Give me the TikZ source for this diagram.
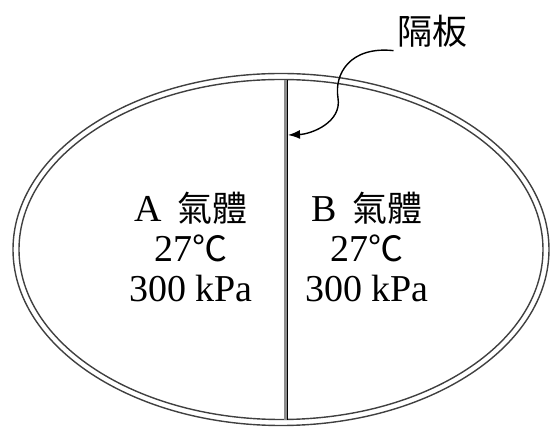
\documentclass[tikz,border=0pt]{standalone}
\usepackage{fontspec}
\setmainfont{Liberation Serif}
\newfontfamily\cjk[Scale=0.92]{Noto Sans CJK TC}
\usetikzlibrary{arrows.meta}

\begin{document}
\begin{tikzpicture}[x=1pt, y=-1pt,
        gas/.style={align=center, font=\fontsize{38}{40}\selectfont}]
        \useasboundingbox (0,0) rectangle (550,427);
        \coordinate (c) at (281,249.5);
        \coordinate (top) at (286,80);
        \coordinate (bot) at (286,420);
        \coordinate (tip) at (288,135);

        \draw[line width=1.4pt, black!75] (c) ellipse [x radius=268, y radius=176];
        \draw[line width=1.4pt, black!75] (c) ellipse [x radius=262, y radius=170];
        \draw[line width=3.5pt, black!45] (top)--(bot);
        \draw[line width=1.2pt] ([xshift=1.5pt]top)--([xshift=1.5pt]bot);

        \node[gas] (a) at (191,247) {A\, {\cjk 氣體}\\27{\cjk ℃}\\300 kPa};
        \node[gas] (b) at (367,247) {B\, {\cjk 氣體}\\27{\cjk ℃}\\300 kPa};
        \node[gas] (lbl) at (432,31) {\cjk 隔板};

        \draw[-{Latex[length=12pt,width=9pt]}, line width=1.4pt]
            (lbl.south west) .. controls (350,46) and (334,74) .. (338,98)
            .. controls (342,122) and (312,134) .. (tip);
    \end{tikzpicture}
\end{document}
